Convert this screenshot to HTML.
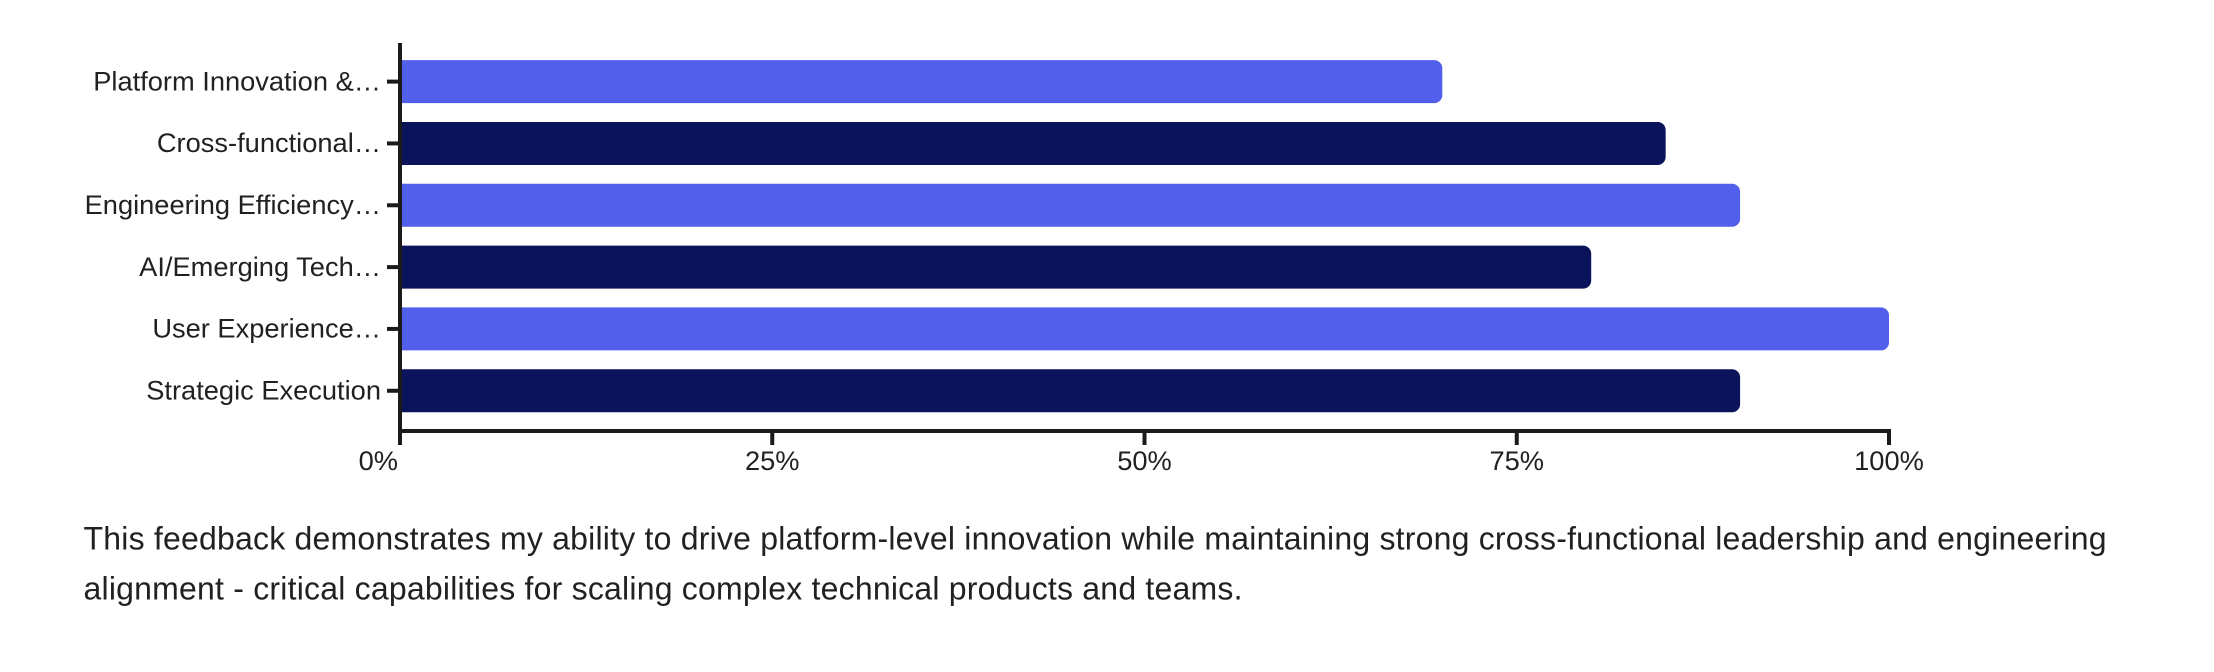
<!DOCTYPE html>
<html lang="en">
<head>
<meta charset="utf-8">
<title>Feedback chart</title>
<style>
  html, body { margin: 0; padding: 0; background: #ffffff; }
  body { width: 2214px; height: 672px; overflow: hidden; }
  svg { display: block; }
  text { font-family: "Liberation Sans", sans-serif; fill: #222120; }
  .tick-text { font-size: 27.25px; }
  .para { font-size: 32px; }
</style>
</head>
<body>
<svg id="chart" width="2214" height="672" viewBox="0 0 2214 672" xmlns="http://www.w3.org/2000/svg">
  <g id="bars"></g>
  <g id="axes"></g>
  <text class="para" x="83.5" y="549.5" textLength="2023" lengthAdjust="spacing">This feedback demonstrates my ability to drive platform-level innovation while maintaining strong cross-functional leadership and engineering</text>
  <text class="para" x="83.5" y="599.5" textLength="1159" lengthAdjust="spacing">alignment - critical capabilities for scaling complex technical products and teams.</text>
</svg>
<script>
const categories = ["Platform Innovation &…", "Cross-functional…", "Engineering Efficiency…", "AI/Emerging Tech…", "User Experience…", "Strategic Execution"];
const scores = [70, 85, 90, 80, 100, 90];
const xTickValues = [0, 25, 50, 75, 100];
const xTickLabels = ["0%", "25%", "50%", "75%", "100%"];

const NS = "http://www.w3.org/2000/svg";
const plotLeft = 400, plotRight = 1889, axisY = 431, axisTop = 43;
const bandTop = 50.7, bandStep = 61.83, barHeight = 43, radius = 8;
const barColors = ["#525FEB", "#0B135A"];
const axisColor = "#1c1b1a";

function xScale(v) { return plotLeft + (v / 100) * (plotRight - plotLeft); }
function yCenter(i) { return bandTop + bandStep * i + bandStep / 2; }

function make(tag, attrs) {
  const el = document.createElementNS(NS, tag);
  for (const k in attrs) el.setAttribute(k, attrs[k]);
  return el;
}

const barsG = document.getElementById("bars");
const axesG = document.getElementById("axes");

scores.forEach(function (v, i) {
  const x1 = xScale(v), y0 = yCenter(i) - barHeight / 2, y1 = y0 + barHeight;
  const d = "M" + plotLeft + " " + y0 + "H" + (x1 - radius) +
    "A" + radius + " " + radius + " 0 0 1 " + x1 + " " + (y0 + radius) +
    "V" + (y1 - radius) +
    "A" + radius + " " + radius + " 0 0 1 " + (x1 - radius) + " " + y1 +
    "H" + plotLeft + "Z";
  const bar = make("path", { d: d, fill: barColors[i % 2] });
  
  
  barsG.appendChild(bar);
});

const yLine = make("line", { x1: plotLeft, x2: plotLeft, y1: axisTop, y2: axisY, stroke: axisColor, "stroke-width": 4 });


axesG.appendChild(yLine);

const xLine = make("line", { x1: plotLeft - 2, x2: plotRight + 2, y1: axisY, y2: axisY, stroke: axisColor, "stroke-width": 4 });


axesG.appendChild(xLine);

categories.forEach(function (c, i) {
  const y = yCenter(i);
  const tick = make("line", { x1: 387, x2: plotLeft, y1: y, y2: y, stroke: axisColor, "stroke-width": 4 });
  
  
  axesG.appendChild(tick);
  const label = make("text", { x: 381, y: y + 8.8, "text-anchor": "end", "class": "tick-text" });
  label.textContent = c;
  
  
  axesG.appendChild(label);
});

xTickValues.forEach(function (v, i) {
  const x = xScale(v);
  const tick = make("line", { x1: x, x2: x, y1: axisY, y2: 445, stroke: axisColor, "stroke-width": 4 });
  
  
  axesG.appendChild(tick);
  const first = i === 0;
  const label = make("text", { x: first ? x - 2 : x, y: 470, "text-anchor": first ? "end" : "middle", "class": "tick-text" });
  label.textContent = xTickLabels[i];
  
  
  axesG.appendChild(label);
});
</script>
</body>
</html>
